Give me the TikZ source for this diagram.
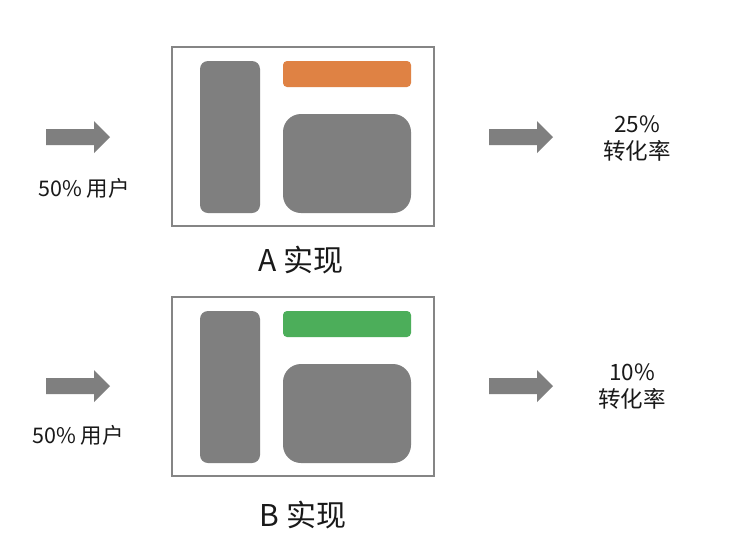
\documentclass[tikz,border=0pt]{standalone}
\usepackage{fontspec}
\setmainfont{Noto Sans CJK SC}
\definecolor{boxgray}{HTML}{7F7F7F}
\definecolor{framegray}{HTML}{858585}
\definecolor{barorange}{HTML}{DF8244}
\definecolor{bargreen}{HTML}{4CAE5A}
\tikzset{
  frame/.style={draw=framegray, line width=2pt, fill=white},
  grayblock/.style={fill=boxgray},
  blockarrow/.style={fill=boxgray},
  smalltext/.style={font=\fontsize{21.5}{26}\selectfont, inner sep=0pt, align=center, text=black!90},
  righttext/.style={font=\fontsize{22.5}{27}\selectfont, inner sep=0pt, align=center, text=black!90},
  bigtext/.style={font=\fontsize{30}{34}\selectfont, inner sep=0pt, text=black!90}
}
\begin{document}
\begin{tikzpicture}[x=1pt, y=-1pt]
\useasboundingbox[fill=white] (0,0) rectangle (740,558);
% ---------- A ----------
\draw[frame] (172,47) rectangle (434,226);
\fill[grayblock, rounded corners=8pt] (200,61) rectangle (260,213);
\fill[barorange, rounded corners=4pt] (283,61) rectangle (411,87);
\fill[grayblock, rounded corners=18pt] (283,114) rectangle (411,213);
\fill[blockarrow] (46,129) -- (94,129) -- (94,121) -- (110,137) -- (94,153) -- (94,145) -- (46,145) -- cycle;
\fill[blockarrow] (489,129) -- (537,129) -- (537,121) -- (553,137) -- (537,153) -- (537,145) -- (489,145) -- cycle;
\node[smalltext] (ua) at (84,188) {50\% 用户};
\node[righttext] (ra) at (637,138.5) {25\%\\转化率};
\node[bigtext] (la) at (301,260) {A 实现};
% ---------- B ----------
\draw[frame] (172,297) rectangle (434,476);
\fill[grayblock, rounded corners=8pt] (200,311) rectangle (260,463);
\fill[bargreen, rounded corners=4pt] (283,311) rectangle (411,337);
\fill[grayblock, rounded corners=18pt] (283,364) rectangle (411,463);
\fill[blockarrow] (46,378) -- (94,378) -- (94,370) -- (110,386) -- (94,402) -- (94,394) -- (46,394) -- cycle;
\fill[blockarrow] (489,378) -- (537,378) -- (537,370) -- (553,386) -- (537,402) -- (537,394) -- (489,394) -- cycle;
\node[smalltext] (ub) at (78,435) {50\% 用户};
\node[righttext] (rb) at (632,386.5) {10\%\\转化率};
\node[bigtext] (lb) at (303,515) {B 实现};
\end{tikzpicture}
\end{document}
